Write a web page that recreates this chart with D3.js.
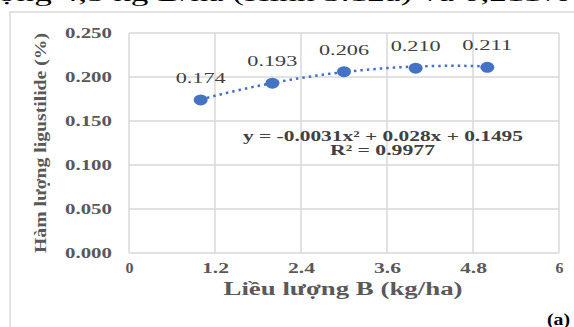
<!DOCTYPE html>
<html>
<head>
<meta charset="utf-8">
<script src="https://cdn.jsdelivr.net/npm/d3@7"></script>
<style>
  body { margin: 0; background: #fff; }
  svg { display: block; }
</style>
</head>
<body>
<div id="chart"></div>
<script>
// data
const doses = [1, 2, 3, 4, 5];
const contents = [0.174, 0.193, 0.206, 0.210, 0.211];
const labels = ['0.174', '0.193', '0.206', '0.210', '0.211'];
const xTicks = [0, 1.2, 2.4, 3.6, 4.8, 6];
const yTicks = [0, 0.05, 0.1, 0.15, 0.2, 0.25];
const trendCoef = [-0.0031, 0.028, 0.1495]; // a x^2 + b x + c
const eqText = ['y = -0.0031x² + 0.028x + 0.1495', 'R² = 0.9977'];

const width = 574, height = 327;
const serif = '"Liberation Serif", "Times New Roman", serif';
const blue = '#4472C4';

const svg = d3.select('#chart').append('svg').attr('width', width).attr('height', height);

// the scanned figure is stretched sideways, so texts get a fixed length
function stretched(sel, len) {
  return sel.attr('textLength', len).attr('lengthAdjust', 'spacingAndGlyphs');
}

// bit of the paragraph above the figure, cut off by the crop
stretched(svg.append('text')
  .attr('x', -2).attr('y', 1)
  .style('font-family', serif).style('font-size', '21px').style('fill', '#000')
  .text('ợng 4,5 kg B/ha (Hình 3.12a) và 0,211%'), 572);

// figure frame
svg.append('rect')
  .attr('x', 10).attr('y', 12).attr('width', 600).attr('height', 400)
  .style('fill', 'none').style('stroke', '#D9D9D9').style('stroke-width', 1.5);

const x = d3.scaleLinear().domain([0, 6]).range([129, 559]);
const y = d3.scaleLinear().domain([0, 0.25]).range([253, 33]);

// grid
svg.append('g').selectAll('line').data(yTicks).enter().append('line')
  .attr('x1', x(0)).attr('x2', x(6))
  .attr('y1', d => y(d)).attr('y2', d => y(d))
  .style('stroke', '#D9D9D9').style('stroke-width', 1.5);
svg.append('g').selectAll('line').data(xTicks).enter().append('line')
  .attr('x1', d => x(d)).attr('x2', d => x(d))
  .attr('y1', y(0)).attr('y2', y(0.25))
  .style('stroke', '#D9D9D9').style('stroke-width', 1.5);

// tick labels
svg.append('g').selectAll('text').data(yTicks).enter().append('text')
  .attr('x', 112).attr('y', d => y(d) + 4.5)
  .attr('text-anchor', 'end')
  .attr('textLength', 47).attr('lengthAdjust', 'spacingAndGlyphs')
  .style('font-family', serif).style('font-size', '15px').style('font-weight', 'bold')
  .style('fill', '#595959')
  .text(d => d3.format('.3f')(d));

svg.append('g').selectAll('text').data(xTicks).enter().append('text')
  .attr('x', d => x(d) + 0.5).attr('y', 273)
  .attr('text-anchor', 'middle')
  .attr('textLength', d => (String(d).length > 1 ? 27 : 8)).attr('lengthAdjust', 'spacingAndGlyphs')
  .style('font-family', serif).style('font-size', '15px').style('font-weight', 'bold')
  .style('fill', '#595959')
  .text(d => d);

// axis titles
stretched(svg.append('text')
  .attr('x', 343).attr('y', 295)
  .attr('text-anchor', 'middle')
  .style('font-family', serif).style('font-size', '18px').style('font-weight', 'bold')
  .style('fill', '#595959')
  .text('Liều lượng B (kg/ha)'), 239);

stretched(svg.append('text')
  .attr('transform', 'translate(46,143) rotate(-90)')
  .attr('text-anchor', 'middle')
  .style('font-family', serif).style('font-size', '17px').style('font-weight', 'bold')
  .style('fill', '#595959')
  .text('Hàm lượng ligustilide  (%)'), 220);

// trendline
const fit = v => trendCoef[0] * v * v + trendCoef[1] * v + trendCoef[2];
const trendX = d3.range(doses[0], doses[doses.length - 1] + 0.001, 0.05);
svg.append('path')
  .datum(trendX)
  .attr('d', d3.line().x(d => x(d)).y(d => y(fit(d))))
  .style('fill', 'none').style('stroke', blue).style('stroke-width', 2.5)
  .style('stroke-dasharray', '2.5,4');

// points
svg.append('g').selectAll('ellipse').data(doses).enter().append('ellipse')
  .attr('cx', d => x(d)).attr('cy', (d, i) => y(contents[i]))
  .attr('rx', 7).attr('ry', 5.5)
  .style('fill', blue);

// data labels
svg.append('g').selectAll('text').data(doses).enter().append('text')
  .attr('x', d => x(d)).attr('y', (d, i) => y(contents[i]) - 17)
  .attr('text-anchor', 'middle')
  .attr('textLength', 50).attr('lengthAdjust', 'spacingAndGlyphs')
  .style('font-family', serif).style('font-size', '15px')
  .style('fill', '#404040')
  .text((d, i) => labels[i]);

// equation
svg.append('g').selectAll('text').data(eqText).enter().append('text')
  .attr('x', (d, i) => (i ? 382.5 : 383)).attr('y', (d, i) => 141 + i * 14)
  .attr('text-anchor', 'middle')
  .attr('textLength', (d, i) => (i ? 105 : 280)).attr('lengthAdjust', 'spacingAndGlyphs')
  .style('font-family', serif).style('font-size', '14px').style('font-weight', 'bold')
  .style('fill', '#404040')
  .text(d => d);

stretched(svg.append('text')
  .attr('x', 547).attr('y', 325)
  .style('font-family', serif).style('font-size', '16px').style('font-weight', 'bold')
  .style('fill', '#000')
  .text('(a)'), 23);
</script>
</body>
</html>
